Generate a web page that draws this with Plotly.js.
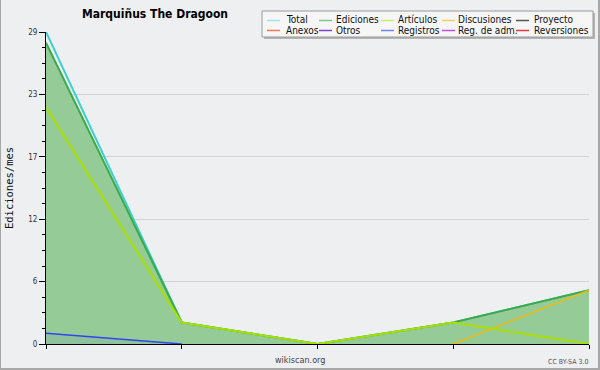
<!DOCTYPE html>
<html>
<head>
<meta charset="utf-8">
<script src="https://cdn.plot.ly/plotly-3.0.1.min.js"></script>
<style>
html,body{margin:0;padding:0;background:#EEEFF1;}
#chart{width:600px;height:370px;}
</style>
</head>
<body>
<div id="chart"></div>
<script>
// ---- data ----
var xIndex = [0, 1, 2, 3, 4];
var seriesNames = ['Total', 'Ediciones', 'Artículos', 'Discusiones', 'Proyecto',
                   'Anexos', 'Otros', 'Registros', 'Reg. de adm.', 'Reversiones'];
var legendColors = ['#9FE6E6', '#7FC98A', '#C8EE70', '#F3D068', '#555555',
                    '#F07A50', '#7A44CC', '#7080E8', '#C050E0', '#E03A3A'];
var totalValues       = [29, 2, 0, 2, 5];
var edicionesValues   = [28, 2, 0, 2, 5];
var articulosValues   = [22, 2, 0, 2, 0];
var discusionesValues = [null, null, null, 0, 5];
var registrosValues   = [1, 0, null, null, null];
var yTickValues = [0, 5.8, 11.6, 17.4, 23.2, 29];
var yTickLabels = ['0', '6', '12', '17', '23', '29'];

// ---- geometry helpers (plot area in px) ----
var W = 600, H = 370, L = 46, R = 11, T = 32, B = 26;
var pw = W - L - R, ph = H - T - B;
function px(x) { return (x - L) / pw; }
function py(y) { return (H - B - y) / ph; }

var traces = [
  {x: xIndex, y: totalValues, name: 'Total', mode: 'lines',
   line: {color: '#3CCFCF', width: 2}},
  {x: xIndex, y: edicionesValues, name: 'Ediciones', mode: 'lines', fill: 'tozeroy',
   fillcolor: '#95CB97', line: {color: '#3AAA4A', width: 2}},
  {x: xIndex, y: registrosValues, name: 'Registros', mode: 'lines', fill: 'tozeroy',
   fillcolor: 'rgba(60,80,230,0.07)', line: {color: '#3344EE', width: 1.5}},
  {x: xIndex, y: discusionesValues, name: 'Discusiones', mode: 'lines',
   line: {color: '#EEBB11', width: 1.5}},
  {x: xIndex, y: articulosValues, name: 'Artículos', mode: 'lines',
   line: {color: '#AAE000', width: 2}}
];

var yMinor = [];
for (var i = 0; i <= 20; i++) { if (i % 4 !== 0) yMinor.push(29 * i / 20); }

var shapes = [];
var annotations = [];
// figure border
shapes.push({type: 'line', xref: 'paper', yref: 'paper', x0: px(0.5), x1: px(0.5), y0: py(0), y1: py(370),
             line: {color: '#A8A8A8', width: 1}});
shapes.push({type: 'line', xref: 'paper', yref: 'paper', x0: px(599), x1: px(599), y0: py(0), y1: py(370),
             line: {color: '#A8A8A8', width: 2}});
shapes.push({type: 'line', xref: 'paper', yref: 'paper', x0: px(0), x1: px(600), y0: py(369), y1: py(369),
             line: {color: '#A8A8A8', width: 2}});
// legend box with shadow
shapes.push({type: 'rect', xref: 'paper', yref: 'paper', x0: px(264), x1: px(595), y0: py(13), y1: py(39),
             fillcolor: '#B4B4B4', line: {width: 0}, layer: 'above'});
shapes.push({type: 'rect', xref: 'paper', yref: 'paper', x0: px(262), x1: px(593), y0: py(11), y1: py(37),
             fillcolor: '#F6F6F6', line: {color: '#9A9A9A', width: 1}, layer: 'above'});
var colLine = [267, 319, 381, 442, 516];
var colText = [285, 335, 397, 457, 533];
var rowY = [20, 30];
seriesNames.forEach(function (n, k) {
  var c = k % 5, r = Math.floor(k / 5);
  shapes.push({type: 'line', xref: 'paper', yref: 'paper', x0: px(colLine[c]), x1: px(colLine[c] + 13),
               y0: py(rowY[r] + 0.5), y1: py(rowY[r] + 0.5), line: {color: legendColors[k], width: 1.5}, layer: 'above'});
  annotations.push({text: n, xref: 'paper', yref: 'paper', x: px(colText[c] - 1), y: py(rowY[r]),
                    xanchor: 'left', yanchor: 'middle', showarrow: false,
                    font: {family: 'DejaVu Sans Condensed, DejaVu Sans', size: 10, color: '#111'}});
});
annotations.push({text: 'wikiscan.org', xref: 'paper', yref: 'paper', x: px(300), y: py(360),
                  xanchor: 'center', yanchor: 'middle', showarrow: false,
                  font: {family: 'DejaVu Sans Condensed, DejaVu Sans', size: 9, color: '#444'}});
annotations.push({text: 'CC BY-SA 3.0', xref: 'paper', yref: 'paper', x: px(590), y: py(362),
                  xanchor: 'right', yanchor: 'middle', showarrow: false,
                  font: {family: 'DejaVu Sans Condensed, DejaVu Sans', size: 7, color: '#555'}});

var layout = {
  width: W, height: H,
  margin: {l: L, r: R, t: T, b: B, pad: 0},
  paper_bgcolor: '#EEEFF1', plot_bgcolor: '#EEEFF1',
  showlegend: false,
  title: {text: '<b>Marquiñus The Dragoon</b>', xref: 'container', yref: 'container',
          x: 155 / W, y: 1 - 14 / H, xanchor: 'center', yanchor: 'middle',
          font: {family: 'DejaVu Sans Condensed, DejaVu Sans', size: 12, color: '#000'}},
  xaxis: {range: [0, 4], tickvals: xIndex, ticktext: ['', '', '', '', ''], ticks: 'outside', ticklen: 4,
          tickcolor: '#000', showgrid: false, zeroline: false, showline: true, linecolor: '#000', linewidth: 1,
          fixedrange: true},
  yaxis: {range: [0, 29], tickvals: yTickValues, ticktext: yTickLabels, ticks: 'outside', ticklen: 6,
          tickcolor: '#000', showgrid: true, gridcolor: '#D2D2D2', gridwidth: 1, zeroline: false,
          showline: true, linecolor: '#000', linewidth: 1,
          tickfont: {family: 'DejaVu Sans Condensed, DejaVu Sans', size: 8, color: '#333'},
          minor: {tickvals: yMinor, ticks: 'outside', ticklen: 3, tickcolor: '#000', showgrid: false},
          title: {text: 'Ediciones/mes', standoff: 12,
                  font: {family: 'DejaVu Sans Mono', size: 10.5, color: '#111'}},
          fixedrange: true},
  shapes: shapes,
  annotations: annotations
};

Plotly.newPlot('chart', traces, layout, {displayModeBar: false, staticPlot: true});
</script>
</body>
</html>
